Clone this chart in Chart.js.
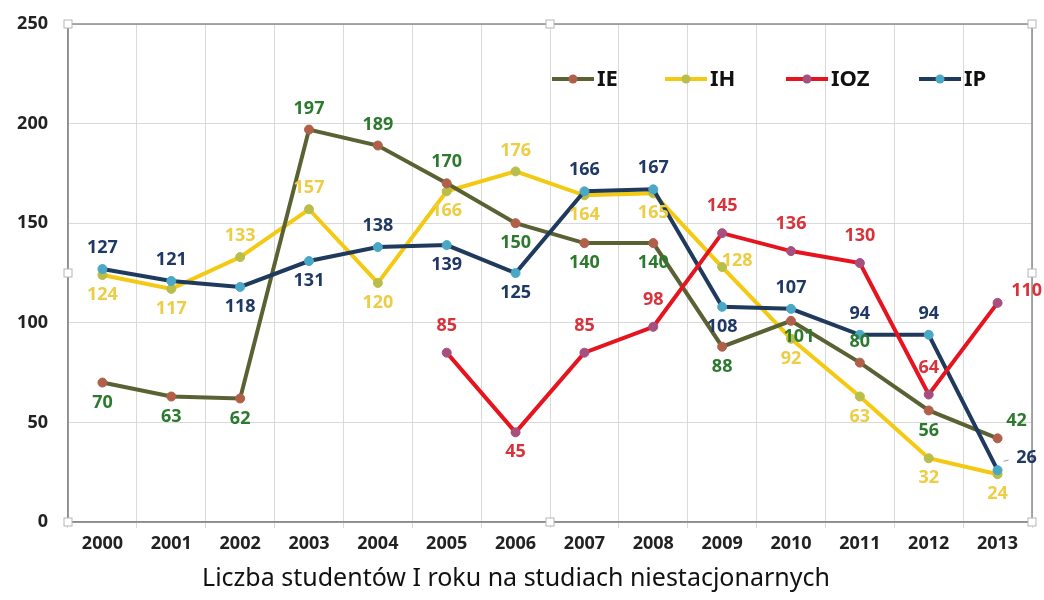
<!DOCTYPE html>
<html>
<head>
<meta charset="utf-8">
<script src="https://cdn.jsdelivr.net/npm/chart.js@4.4.1/dist/chart.umd.min.js"></script>
<style>
  html, body { margin: 0; padding: 0; background: #fff; }
</style>
</head>
<body>
<canvas id="chart" width="1044" height="600"></canvas>
<script>
// data
const years = ['2000', '2001', '2002', '2003', '2004', '2005', '2006', '2007', '2008', '2009', '2010', '2011', '2012', '2013'];
const ie  = [70, 63, 62, 197, 189, 170, 150, 140, 140, 88, 101, 80, 56, 42];
const ih  = [124, 117, 133, 157, 120, 166, 176, 164, 165, 128, 92, 63, 32, 24];
const ioz = [null, null, null, null, null, 85, 45, 85, 98, 145, 136, 130, 64, 110];
const ip  = [127, 121, 118, 131, 138, 139, 125, 166, 167, 108, 107, 94, 94, 26];
const yTicks = [0, 50, 100, 150, 200, 250];
const chartTitle = 'Liczba studentów I roku na studiach niestacjonarnych';

// where each value label sits relative to its point
const placeOffsets = {
  a: [0, -21], A: [0, -27], b: [0, 20], r: [15, -6],
  br: [8, 16], ar: [19, -17], rr: [29, -12]
};
const labelPlacement = {
  IE:  ['b', 'b', 'b', 'a', 'a', 'a', 'b', 'b', 'b', 'b', 'br', 'a', 'b', 'ar'],
  IH:  ['b', 'b', 'a', 'a', 'b', 'b', 'a', 'b', 'b', 'r', 'b', 'b', 'b', 'b'],
  IOZ: [null, null, null, null, null, 'A', 'b', 'A', 'A', 'A', 'A', 'A', 'A', 'rr'],
  IP:  ['a', 'a', 'b', 'b', 'a', 'b', 'b', 'a', 'a', 'b', 'a', 'a', 'a', 'rr']
};
const legendX = [552, 665, 786, 919];

const FONT = '"Noto Sans", "DejaVu Sans", sans-serif';
Chart.defaults.font.family = FONT;

function series(label, data, line, marker, labelColor, order) {
  return {
    label: label,
    data: data,
    borderColor: line,
    backgroundColor: marker,
    borderWidth: 4,
    pointRadius: 4.5,
    pointHoverRadius: 4.5,
    pointBackgroundColor: marker,
    pointBorderColor: marker,
    pointBorderWidth: 1,
    tension: 0,
    spanGaps: false,
    order: order,
    labelColor: labelColor
  };
}

const pointLabels = {
  id: 'pointLabels',
  afterDatasetsDraw(chart) {
    const ctx = chart.ctx;
    ctx.save();
    ctx.font = 'bold 18px ' + FONT;
    ctx.textAlign = 'center';
    ctx.textBaseline = 'middle';
    chart.data.datasets.forEach((ds, i) => {
      const meta = chart.getDatasetMeta(i);
      const codes = labelPlacement[ds.label];
      meta.data.forEach((pt, j) => {
        const v = ds.data[j];
        if (v == null || !codes[j]) return;
        const off = placeOffsets[codes[j]];
        ctx.fillStyle = ds.labelColor;
        ctx.fillText(String(v), pt.x + off[0], pt.y + off[1]);
      });
    });
    // small leader next to the last IP label
    const ipMeta = chart.getDatasetMeta(3);
    const last = ipMeta.data[ipMeta.data.length - 1];
    ctx.strokeStyle = '#9a9a9a';
    ctx.lineWidth = 1;
    ctx.beginPath();
    ctx.moveTo(last.x + 6, last.y - 9);
    ctx.lineTo(last.x + 11, last.y - 10);
    ctx.stroke();
    ctx.restore();
  }
};

const frameAndLegend = {
  id: 'frameAndLegend',
  beforeDatasetsDraw(chart) {
    const a = chart.chartArea;
    const ctx = chart.ctx;
    ctx.save();
    ctx.strokeStyle = '#8c8c8c';
    ctx.lineWidth = 1.5;
    ctx.strokeRect(a.left, a.top, a.right - a.left, a.bottom - a.top);
    ctx.restore();
  },
  afterDraw(chart) {
    const a = chart.chartArea;
    const ctx = chart.ctx;
    ctx.save();
    // plot area handles
    const mx = (a.left + a.right) / 2, my = (a.top + a.bottom) / 2;
    [[a.left, a.top], [mx, a.top], [a.right, a.top], [a.left, my], [a.right, my],
     [a.left, a.bottom], [mx, a.bottom], [a.right, a.bottom]].forEach(p => {
      ctx.fillStyle = '#fff';
      ctx.strokeStyle = '#b5b5b5';
      ctx.lineWidth = 1;
      ctx.fillRect(p[0] - 4, p[1] - 4, 8, 8);
      ctx.strokeRect(p[0] - 4, p[1] - 4, 8, 8);
    });
    // legend
    const y = 79;
    chart.data.datasets.forEach((ds, i) => {
      const x0 = legendX[i];
      ctx.strokeStyle = ds.borderColor;
      ctx.lineWidth = 4;
      ctx.beginPath();
      ctx.moveTo(x0, y);
      ctx.lineTo(x0 + 42, y);
      ctx.stroke();
      ctx.fillStyle = ds.pointBackgroundColor;
      ctx.beginPath();
      ctx.arc(x0 + 21, y, 4.5, 0, Math.PI * 2);
      ctx.fill();
      ctx.fillStyle = '#111';
      ctx.font = 'bold 22px ' + FONT;
      ctx.textAlign = 'left';
      ctx.textBaseline = 'middle';
      ctx.fillText(ds.label, x0 + 45, y + 1);
    });
    ctx.restore();
  }
};

new Chart(document.getElementById('chart'), {
  type: 'line',
  data: {
    labels: years,
    datasets: [
      series('IE', ie, '#5a6133', '#b0604a', '#2c7a2e', 2),
      series('IH', ih, '#f3c912', '#b9bd4a', '#eccd45', 3),
      series('IOZ', ioz, '#e5141e', '#a5507e', '#d8333a', 0),
      series('IP', ip, '#1f3a5c', '#4ba7c6', '#1f3864', 1)
    ]
  },
  options: {
    responsive: false,
    animation: false,
    devicePixelRatio: 1,
    layout: { padding: { left: 0, right: 12, top: 24, bottom: 0 } },
    plugins: {
      legend: { display: false },
      tooltip: { enabled: false },
      title: {
        display: true,
        position: 'bottom',
        text: chartTitle,
        color: '#111',
        font: { family: FONT, size: 25, weight: 'normal' },
        padding: { top: 4, bottom: 6 }
      }
    },
    scales: {
      x: {
        offset: true,
        grid: { offset: true, color: '#d9d9d9', lineWidth: 1, tickLength: 6, drawOnChartArea: true },
        border: { color: '#8c8c8c', width: 1.5 },
        ticks: { color: '#222', font: { size: 18, weight: 'bold' }, padding: 5, maxRotation: 0, autoSkip: false },
        afterFit(scale) { scale.height = 38; scale.paddingLeft = 0; scale.paddingRight = 0; }
      },
      y: {
        min: yTicks[0],
        max: yTicks[yTicks.length - 1],
        afterBuildTicks(scale) { scale.ticks = yTicks.map(v => ({ value: v })); },
        grid: { color: '#d9d9d9', lineWidth: 1, drawTicks: false },
        border: { color: '#8c8c8c', width: 1.5 },
        ticks: { color: '#222', font: { size: 18, weight: 'bold' }, padding: 20 },
        afterFit(scale) { scale.width = 68; scale.paddingTop = 0; scale.paddingBottom = 0; }
      }
    }
  },
  plugins: [pointLabels, frameAndLegend]
});
</script>
</body>
</html>
